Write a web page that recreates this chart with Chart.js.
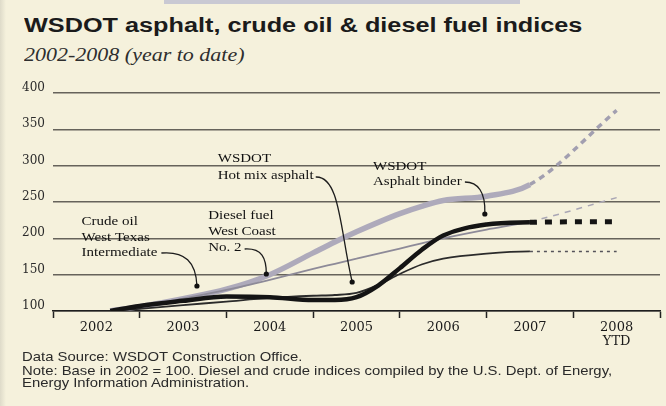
<!DOCTYPE html>
<html>
<head>
<meta charset="utf-8">
<script src="https://cdn.jsdelivr.net/npm/chart.js@4.4.1/dist/chart.umd.min.js"></script>
<style>
  body { margin: 0; background: #f5f1dc; }
  #quadro { position: relative; width: 666px; height: 406px; overflow: hidden; background: #f5f1dc; }
  #faixa { position: absolute; left: 164px; top: 0; width: 356px; height: 4px; background: #c9c9d3; }
  #borda { position: absolute; left: 0; top: 0; width: 6px; height: 406px; background: linear-gradient(to right, #dedbc9, #f5f1dc); }
  .t { position: absolute; white-space: nowrap; transform-origin: 0 0; color: #1b1b1b; }
  #titulo { left: 24px; top: 15px; font: bold 20px/20px "Liberation Sans", Arial, sans-serif; }
  #subtitulo { left: 24px; top: 46px; font: italic 18px/18px "Liberation Serif", serif; color: #2e2e2e; }
  .nota { left: 22px; font: 13px/13px "Liberation Sans", Arial, sans-serif; color: #2a2a2a; }
  canvas { position: absolute; left: 0; top: 0; }
</style>
</head>
<body>
<div id="quadro">
  <div id="faixa"></div>
  <div id="borda"></div>
  <div class="t" id="titulo" data-w="558">WSDOT asphalt, crude oil &amp; diesel fuel indices</div>
  <div class="t" id="subtitulo" data-w="220">2002-2008 (year to date)</div>
  <canvas id="myChart" width="666" height="406"></canvas>
  <div class="t nota" style="top:350px">Data Source: WSDOT Construction Office.</div>
  <div class="t nota" id="nota2" style="top:364px">Note: Base in 2002 = 100. Diesel and crude indices compiled by the U.S. Dept. of Energy,</div>
  <div class="t nota" style="top:376px">Energy Information Administration.</div>
</div>
<script>
// posicao (em anos) dos pontos; o ultimo e o 2008 YTD
const anos = [2002.66, 2003, 2003.5, 2004, 2004.5, 2005, 2005.25, 2005.5, 2005.75, 2006, 2006.25, 2006.5, 2007, 2007.5, 2008.5];
const diesel = [100, 106, 117, 130, 150, 180, 195, 209, 222, 234, 244, 252, 258, 274, 376];
const crude  = [100, 106, 117, 129, 143, 158, 165, 172, 179, 186, 193, 200, 212, 223, 256];
const binder = [100, 107, 114, 120, 119, 115, 115, 119, 135, 159, 184, 204, 219, 222, 223];
const hotMix = [100, 103, 108, 113, 118, 121, 122, 125, 136, 151, 164, 172, 179, 182, 182];
const rotulosAno = ['2002', '2003', '2004', '2005', '2006', '2007', '2008'];
const rotuloYtd = 'YTD';
const valoresY = [100, 150, 200, 250, 300, 350, 400];

// textos com seta (coordenadas em anos / indice)
const notas = [
  { linhas: ['Crude oil', 'West Texas', 'Intermediate'], em: [2002.33, 222.5], entre: 15.5,
    seta: [[2003.25, 179.8], [2003.52, 182.6], [2003.65, 167.4], [2003.66, 134.4]] },
  { linhas: ['Diesel fuel', 'West Coast', 'No. 2'], em: [2003.79, 230.7], entre: 15.8,
    seta: [[2004.21, 185.3], [2004.41, 186.7], [2004.46, 172.9], [2004.46, 150.9]] },
  { linhas: ['WSDOT', 'Hot mix asphalt'], em: [2003.90, 309.2], entre: 17,
    seta: [[2005.03, 284.4], [2005.31, 285.8], [2005.31, 211.5], [2005.45, 139.9]] },
  { linhas: ['WSDOT', 'Asphalt binder'], em: [2005.69, 298.2], entre: 15,
    seta: [[2006.75, 277.5], [2006.90, 277.5], [2006.99, 263.8], [2006.98, 233.5]] }
];

const inicioYtd = anos.length - 2;

function linha(valores, cor, largura, corYtd, larguraYtd, tracos) {
  return {
    data: anos.map((x, i) => ({ x: x, y: valores[i] })),
    borderColor: cor,
    borderWidth: largura,
    pointRadius: 0,
    cubicInterpolationMode: 'monotone',
    borderCapStyle: 'butt',
    segment: {
      borderDash: ctx => ctx.p0DataIndex >= inicioYtd ? tracos : undefined,
      borderColor: ctx => ctx.p0DataIndex >= inicioYtd ? corYtd : undefined,
      borderWidth: ctx => ctx.p0DataIndex >= inicioYtd ? larguraYtd : undefined
    }
  };
}

const anotacoes = {
  id: 'anotacoes',
  afterDatasetsDraw(chart) {
    const ctx = chart.ctx;
    const x = chart.scales.x, y = chart.scales.y;
    ctx.save();
    ctx.fillStyle = '#111';
    ctx.strokeStyle = '#1c1c1c';
    ctx.font = '12.5px "Liberation Serif", serif';
    ctx.textBaseline = 'middle';
    notas.forEach(n => {
      const px = x.getPixelForValue(n.em[0]);
      const py = y.getPixelForValue(n.em[1]);
      n.linhas.forEach((l, i) => {
        ctx.save();
        ctx.translate(px, py + i * n.entre);
        ctx.scale(1.2, 1);
        ctx.fillText(l, 0, 0);
        ctx.restore();
      });
      const p = n.seta.map(s => [x.getPixelForValue(s[0]), y.getPixelForValue(s[1])]);
      ctx.lineWidth = 1.3;
      ctx.beginPath();
      ctx.moveTo(p[0][0], p[0][1]);
      ctx.bezierCurveTo(p[1][0], p[1][1], p[2][0], p[2][1], p[3][0], p[3][1]);
      ctx.stroke();
      ctx.beginPath();
      ctx.arc(p[3][0], p[3][1], 2.6, 0, Math.PI * 2);
      ctx.fill();
    });
    ctx.restore();
  }
};

const marcasX = [];
for (let a = 2002; a <= 2009; a += 0.5) marcasX.push(a);

const config = {
  type: 'line',
  data: {
    datasets: [
      linha(binder, '#141414', 4.5, '#141414', 5, [7, 8]),
      linha(hotMix, '#2b2b2b', 1.8, '#55535a', 1.5, [3, 4]),
      linha(crude, '#8d8a98', 1.8, '#a9a6b4', 1.5, [6, 6]),
      linha(diesel, '#aeaabb', 5.5, '#a29fb0', 3.5, [6, 5])
    ]
  },
  options: {
    responsive: false,
    animation: false,
    events: [],
    layout: { padding: { top: 93, right: 6, bottom: 55, left: 0 } },
    plugins: {
      legend: { display: false },
      tooltip: { enabled: false }
    },
    scales: {
      x: {
        type: 'linear',
        min: 2002,
        max: 2009,
        afterBuildTicks: axis => { axis.ticks = marcasX.map(v => ({ value: v })); },
        afterFit: axis => { axis.height = 40; },
        ticks: {
          autoSkip: false,
          maxRotation: 0,
          padding: 2,
          color: '#1a1a1a',
          font: { family: 'DejaVu Serif', size: 13, lineHeight: 1.1 },
          callback: v => {
            if (v % 1 === 0) return '';
            const ano = rotulosAno[Math.floor(v) - 2002];
            return ano === '2008' ? [ano, rotuloYtd] : ano;
          }
        },
        grid: {
          drawOnChartArea: false,
          drawTicks: true,
          tickLength: 7,
          tickWidth: 1.5,
          tickColor: ctx => ctx.tick && ctx.tick.value % 1 === 0 ? '#222' : 'rgba(0,0,0,0)'
        },
        border: { color: '#1e1e1e', width: 1.6 }
      },
      y: {
        min: 100,
        max: 400,
        afterBuildTicks: axis => { axis.ticks = valoresY.map(v => ({ value: v })); },
        afterFit: axis => { axis.width = 53; },
        ticks: {
          padding: 8,
          labelOffset: -5,
          color: '#2a2a2a',
          font: { family: 'DejaVu Serif', size: 12 }
        },
        grid: { color: '#66635b', lineWidth: 1.4, drawTicks: false },
        border: { display: false }
      }
    }
  },
  plugins: [anotacoes]
};

const myChart = new Chart(document.getElementById('myChart'), config);

// ajusta a largura dos textos ao que se ve na figura
document.querySelectorAll('.t[data-w]').forEach(el => {
  el.style.transform = 'scaleX(' + (el.dataset.w / el.offsetWidth) + ')';
});
const escalaNota = 590 / document.getElementById('nota2').offsetWidth;
document.querySelectorAll('.nota').forEach(el => {
  el.style.transform = 'scaleX(' + escalaNota + ')';
});
</script>
</body>
</html>
